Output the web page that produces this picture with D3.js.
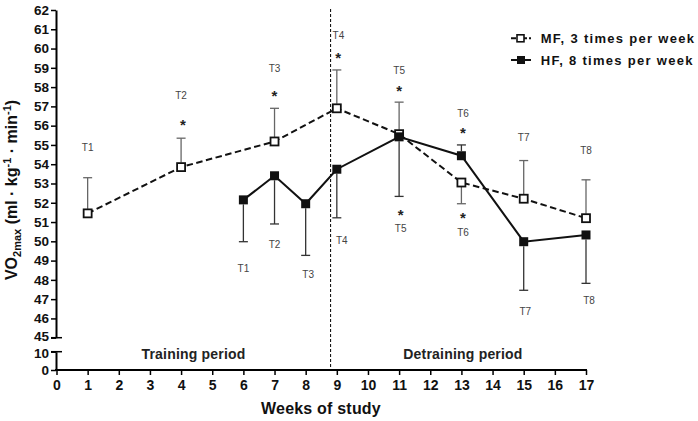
<!DOCTYPE html>
<html><head><meta charset="utf-8">
<script src="https://cdn.jsdelivr.net/npm/d3@7"></script>
<style>
body{margin:0;background:#fff;}
svg{display:block;font-family:"Liberation Sans",Arial,sans-serif;}
</style></head>
<body>
<svg id="c" width="698" height="421"></svg>
<script>
// ---- data ----
const weeks = d3.range(0, 18);
const upperTicks = d3.range(45, 63);
const lowerTicks = [0, 10];

const mfWeeks = [1, 4, 7, 9, 11, 13, 15, 17];
const mfMean  = [51.45, 53.85, 55.18, 56.9, 55.56, 53.05, 52.21, 51.2];
const mfErrEnd = [53.3, 55.35, 56.9, 58.89, 57.22, 51.95, 54.19, 53.19];

const hfWeeks = [6, 7, 8, 9, 11, 13, 15, 17];
const hfMean  = [52.15, 53.4, 51.95, 53.74, 55.42, 54.44, 49.98, 50.33];
const hfErrEnd = [49.98, 50.9, 49.27, 51.22, 52.33, 55.0, 47.46, 47.82];

const topLabels = ["T1","T2","T3","T4","T5","T6","T7","T8"];
const topLabelWeeks = [1, 4, 7, 9.05, 11, 13.05, 15, 17];
const topLabelVals = [54.86, 57.55, 58.98, 60.67, 58.85, 56.64, 55.39, 54.74];
const topStarWeeks = [4.06, 7, 9.04, 11, 13.05];
const topStarVals = [56.21, 57.73, 59.67, 57.99, 55.78];

const botLabels = ["T1","T2","T3","T4","T5","T6","T7","T8"];
const botLabelWeeks = [6, 7, 8.08, 9.16, 11.05, 13.05, 15.05, 17.1];
const botLabelVals = [48.6, 49.85, 48.29, 50.07, 50.68, 50.45, 46.39, 46.96];
const botStarWeeks = [11.05, 13.05];
const botStarVals = [51.57, 51.4];

const breakWeek = 8.8;
const seriesNames = ["MF, 3 times per week", "HF, 8 times per week"];
const periodNames = ["Training period", "Detraining period"];
const periodWeeks = [4.4, 13.05];

// ---- drawing ----
const svg = d3.select("#c");
const x = d3.scaleLinear().domain([0, 17]).range([56.5, 586]);
const yT = d3.scaleLinear().domain([45, 62]).range([337.7, 10]);
const yB = d3.scaleLinear().domain([0, 10]).range([370, 351.7]);
const axisX = 56;

function styleAxis(g, fs) {
  g.select(".domain").attr("stroke", "#000").attr("stroke-width", 2);
  g.selectAll(".tick line").attr("stroke", "#000").attr("stroke-width", 1.5);
  g.selectAll(".tick text").attr("fill", "#111").attr("font-size", fs)
    .attr("font-weight", "bold").attr("font-family", "Liberation Sans, Arial, sans-serif");
}

// upper y axis
const gUp = svg.append("g").attr("transform", `translate(${axisX},0)`)
  .call(d3.axisLeft(yT).tickValues(upperTicks).tickSize(5).tickSizeOuter(0).tickPadding(2).tickFormat(d3.format("d")));
styleAxis(gUp, 13.5);
gUp.append("line").attr("x1", -5).attr("x2", 6).attr("y1", yT(45)).attr("y2", yT(45)).attr("stroke", "#000").attr("stroke-width", 1.5);

// lower y axis
const gLo = svg.append("g").attr("transform", `translate(${axisX},0)`)
  .call(d3.axisLeft(yB).tickValues(lowerTicks).tickSize(5).tickSizeOuter(0).tickPadding(2).tickFormat(d3.format("d")));
styleAxis(gLo, 13.5);
gLo.append("line").attr("x1", -5).attr("x2", 6).attr("y1", yB(10)).attr("y2", yB(10)).attr("stroke", "#000").attr("stroke-width", 1.5);
// nudge the two labels at the axis break apart slightly
gUp.selectAll(".tick text").filter(d => d === 45).attr("dy", "0.2em");
gLo.selectAll(".tick text").filter(d => d === 10).attr("dy", "0.45em");

// x axis
const gX = svg.append("g").attr("transform", `translate(0,${yB(0)})`)
  .call(d3.axisBottom(x).tickValues(weeks).tickSize(5).tickSizeOuter(0).tickPadding(5).tickFormat(d3.format("d")));
styleAxis(gX, 14);
gX.select(".domain").attr("d", `M${axisX - 1},0H${x(17) + 1}`);

// break line
svg.append("line").attr("x1", x(breakWeek)).attr("x2", x(breakWeek))
  .attr("y1", yT(62) - 1).attr("y2", yB(0)).attr("stroke", "#000")
  .attr("stroke-width", 1).attr("stroke-dasharray", "3,2");

// period labels
svg.selectAll(".period").data(periodNames).join("text")
  .attr("x", (d, i) => x(periodWeeks[i])).attr("y", 359)
  .attr("text-anchor", "middle").attr("font-size", 14).attr("font-weight", "bold")
  .attr("letter-spacing", 0.2).attr("fill", "#222").text(d => d);

// axis titles
svg.append("text").attr("x", 321).attr("y", 413.5).attr("text-anchor", "middle")
  .attr("font-size", 16).attr("font-weight", "bold").attr("letter-spacing", 0.2).attr("fill", "#111").text("Weeks of study");

const yt = svg.append("text").attr("transform", "translate(16.5,190) rotate(-90)")
  .attr("text-anchor", "middle").attr("font-size", 16).attr("font-weight", "bold").attr("fill", "#111");
yt.append("tspan").text("VO");
yt.append("tspan").attr("font-size", 11).attr("dy", 4).text("2max");
yt.append("tspan").attr("dy", -4).text(" (ml · kg");
yt.append("tspan").attr("font-size", 11).attr("dy", -6).text("-1");
yt.append("tspan").attr("dy", 6).text(" · min");
yt.append("tspan").attr("font-size", 11).attr("dy", -6).text("-1");
yt.append("tspan").attr("dy", 6).text(")");

// error bars
function errBars(wk, mean, end, color) {
  const g = svg.append("g").attr("stroke", color).attr("stroke-width", 1.3).attr("fill", "none");
  wk.forEach((w, i) => {
    const cx = x(w), y0 = yT(mean[i]), y1 = yT(end[i]);
    const dir = y1 < y0 ? -1 : 1;
    g.append("line").attr("x1", cx).attr("x2", cx).attr("y1", y0 + dir * 4.5).attr("y2", y1);
    g.append("line").attr("x1", cx - 4.5).attr("x2", cx + 4.5).attr("y1", y1).attr("y2", y1);
  });
}
errBars(mfWeeks, mfMean, mfErrEnd, "#666");
errBars(hfWeeks, hfMean, hfErrEnd, "#333");

// lines
const lineMF = d3.line().x((d, i) => x(mfWeeks[i])).y(d => yT(d));
const lineHF = d3.line().x((d, i) => x(hfWeeks[i])).y(d => yT(d));
svg.append("path").attr("d", lineMF(mfMean)).attr("fill", "none").attr("stroke", "#111")
  .attr("stroke-width", 2).attr("stroke-dasharray", "6.5,3.5");
svg.append("path").attr("d", lineHF(hfMean)).attr("fill", "none").attr("stroke", "#111").attr("stroke-width", 2);

// markers
const s = 8;
svg.selectAll(".mf").data(mfMean).join("rect")
  .attr("x", (d, i) => x(mfWeeks[i]) - s / 2).attr("y", d => yT(d) - s / 2)
  .attr("width", s).attr("height", s).attr("fill", "#fff").attr("stroke", "#111").attr("stroke-width", 1.8);
svg.selectAll(".hf").data(hfMean).join("rect")
  .attr("x", (d, i) => x(hfWeeks[i]) - 4.5).attr("y", d => yT(d) - 4.5)
  .attr("width", 9).attr("height", 9).attr("fill", "#111");

// annotations
function tLabels(lbls, wk, vals) {
  svg.append("g").selectAll("text").data(lbls).join("text")
    .attr("x", (d, i) => x(wk[i])).attr("y", (d, i) => yT(vals[i]) + 3.6)
    .attr("text-anchor", "middle").attr("font-size", 10).attr("fill", "#444").text(d => d);
}
tLabels(topLabels, topLabelWeeks, topLabelVals);
tLabels(botLabels, botLabelWeeks, botLabelVals);
function stars(wk, vals) {
  svg.append("g").selectAll("text").data(vals).join("text")
    .attr("x", (d, i) => x(wk[i])).attr("y", d => yT(d) + 8.5)
    .attr("text-anchor", "middle").attr("font-size", 15).attr("font-weight", "bold").attr("fill", "#222").text("*");
}
stars(topStarWeeks, topStarVals);
stars(botStarWeeks, botStarVals);

// legend
const lg = svg.append("g");
[38.3, 60].forEach((ly, i) => {
  if (i === 0) {
    lg.append("line").attr("x1", 511).attr("x2", 531).attr("y1", ly).attr("y2", ly)
      .attr("stroke", "#111").attr("stroke-width", 2).attr("stroke-dasharray", "5,2,9,2,2");
    lg.append("rect").attr("x", 517).attr("y", ly - 3.5).attr("width", 7).attr("height", 7)
      .attr("fill", "#fff").attr("stroke", "#111").attr("stroke-width", 1.6);
  } else {
    lg.append("line").attr("x1", 511).attr("x2", 531).attr("y1", ly).attr("y2", ly)
      .attr("stroke", "#111").attr("stroke-width", 2);
    lg.append("rect").attr("x", 517).attr("y", ly - 4).attr("width", 8).attr("height", 8).attr("fill", "#111");
  }
  lg.append("text").attr("x", 540.7).attr("y", ly + 4.7).attr("font-size", 13).attr("font-weight", "bold")
    .attr("letter-spacing", 1.3).attr("fill", "#111").text(seriesNames[i]);
});
</script>
</body></html>
